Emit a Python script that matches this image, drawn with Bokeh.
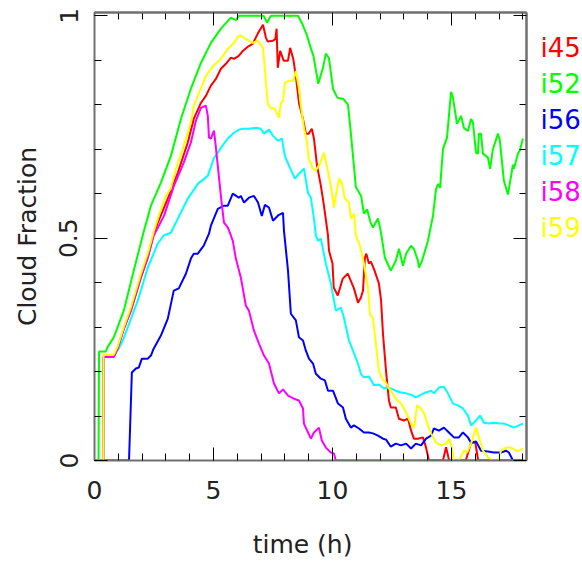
from bokeh.plotting import figure
from bokeh.models import Range1d, FixedTicker, LinearAxis
from bokeh.layouts import row
from bokeh.core.properties import value
from bokeh.embed import file_html
from bokeh.resources import INLINE

# ---------------- data ----------------
x_major = [0, 5, 10, 15]
x_minor = list(range(0, 19))
y_major = [0, 0.5, 1]
y_minor = [0, 0.1, 0.2, 0.3, 0.4, 0.5, 0.6, 0.7, 0.8, 0.9, 1.0]

series_names = ["i45", "i52", "i56", "i57", "i58", "i59"]
series_colors = ["#ff0000", "#00ff00", "#0000ff", "#00ffff", "#ff00ff", "#ffff00"]

t_i45 = [0, 0.37, 0.38, 0.81, 0.98, 1.23, 1.53, 1.95, 2.24, 2.49, 2.66, 3.08, 3.5, 3.92, 4.17,
         4.47, 4.68, 4.89, 5.1, 5.31, 5.52, 5.73, 5.86, 6.06, 6.23, 6.43, 6.65, 6.86, 7.08, 7.2,
         7.28, 7.5, 7.6, 7.65, 7.7, 7.8, 7.95, 8.13, 8.22, 8.35, 8.46, 8.59, 8.76, 8.88, 9.0,
         9.13, 9.22, 9.35, 9.51, 9.64, 9.81, 9.85, 10.0, 10.05, 10.22, 10.43, 10.64, 10.77, 10.9,
         11.07, 11.19, 11.28, 11.36, 11.42, 11.53, 11.61, 11.74, 11.95, 12.04, 12.12, 12.25,
         12.37, 12.45, 12.66, 12.79, 13.0, 13.17, 13.3, 13.42, 13.59, 13.8, 13.93, 14.05, 14.64,
         14.77, 14.9, 15.6, 15.82, 16.0, 16.12, 17.95]
v_i45 = [0, 0, 0.233, 0.233, 0.254, 0.297, 0.337, 0.411, 0.456, 0.51, 0.535, 0.589, 0.647, 0.715,
         0.768, 0.804, 0.82, 0.843, 0.858, 0.881, 0.892, 0.906, 0.903, 0.91, 0.921, 0.93, 0.937,
         0.96, 0.98, 0.951, 0.942, 0.944, 0.948, 0.971, 0.883, 0.921, 0.899, 0.899, 0.928, 0.903,
         0.865, 0.804, 0.768, 0.735, 0.735, 0.746, 0.724, 0.663, 0.618, 0.573, 0.506, 0.472,
         0.443, 0.389, 0.371, 0.409, 0.42, 0.404, 0.387, 0.355, 0.366, 0.382, 0.456, 0.465,
         0.443, 0.447, 0.431, 0.398, 0.36, 0.285, 0.2, 0.135, 0.119, 0.119, 0.094, 0.09, 0.094,
         0.067, 0.049, 0.049, 0.052, 0.029, 0.0, 0.0, 0.03, 0.0, 0.0, 0.04, 0.04, 0.0, 0.0]

t_i52 = [0, 0.17, 0.19, 0.47, 0.55, 0.81, 1.23, 1.65, 2.07, 2.37, 2.79, 3.21, 3.63, 4.05, 4.47,
         4.89, 5.31, 5.73, 5.94, 6.07, 7.1, 7.25, 7.41, 8.55, 8.7, 8.9, 9.1, 9.2, 9.4, 9.6, 9.72,
         9.85, 10.02, 10.2, 10.45, 10.65, 10.75, 10.86, 10.98, 11.2, 11.32, 11.45, 11.6, 11.7,
         11.91, 12.03, 12.2, 12.45, 12.66, 12.79, 12.96, 13.09, 13.3, 13.42, 13.59, 13.63, 13.76,
         13.89, 14.01, 14.22, 14.35, 14.44, 14.52, 14.64, 14.81, 14.98, 15.06, 15.23, 15.4,
         15.52, 15.69, 15.82, 15.9, 16.03, 16.11, 16.15, 16.24, 16.32, 16.53, 16.62, 16.74,
         16.95, 17.03, 17.2, 17.37, 17.58, 17.62, 17.79, 17.87, 18.0]
v_i52 = [0, 0, 0.245, 0.245, 0.255, 0.277, 0.337, 0.427, 0.515, 0.573, 0.625, 0.685, 0.768,
         0.836, 0.894, 0.939, 0.971, 0.996, 0.99, 1.0, 1.0, 0.985, 1.0, 1.0, 0.985, 0.96, 0.925,
         0.91, 0.847, 0.883, 0.915, 0.905, 0.836, 0.816, 0.813, 0.8, 0.748, 0.685, 0.615, 0.595,
         0.555, 0.565, 0.535, 0.524, 0.544, 0.515, 0.456, 0.427, 0.449, 0.476, 0.438, 0.465,
         0.483, 0.476, 0.449, 0.434, 0.449, 0.472, 0.494, 0.55, 0.611, 0.622, 0.613, 0.7, 0.726,
         0.829, 0.816, 0.757, 0.775, 0.748, 0.741, 0.768, 0.76, 0.692, 0.69, 0.735, 0.735, 0.69,
         0.681, 0.656, 0.7, 0.735, 0.72, 0.629, 0.598, 0.665, 0.656, 0.69, 0.697, 0.724]

t_i56 = [0, 1.45, 1.57, 1.74, 1.86, 1.99, 2.24, 2.37, 2.49, 2.79, 3.08, 3.33, 3.54, 3.84, 4.05,
         4.17, 4.34, 4.59, 4.81, 4.89, 5.18, 5.44, 5.6, 5.81, 6.06, 6.15, 6.28, 6.49, 6.7, 6.87,
         7.03, 7.16, 7.33, 7.5, 7.71, 7.92, 7.96, 8.13, 8.25, 8.46, 8.59, 8.76, 8.88, 9.01, 9.18,
         9.3, 9.51, 9.68, 9.81, 10.02, 10.23, 10.44, 10.56, 10.77, 10.9, 11.11, 11.32, 11.53,
         11.7, 11.91, 12.12, 12.25, 12.45, 12.66, 12.88, 13.09, 13.3, 13.5, 13.72, 13.93, 14.14,
         14.26, 14.47, 14.68, 14.89, 15.1, 15.31, 15.48, 15.69, 15.82, 16.03, 16.24, 16.53,
         16.78, 17.08, 17.29, 17.41, 17.58, 18.0]
v_i56 = [0, 0, 0.198, 0.207, 0.209, 0.229, 0.229, 0.236, 0.252, 0.281, 0.319, 0.382, 0.387, 0.42,
         0.454, 0.465, 0.465, 0.483, 0.51, 0.528, 0.566, 0.573, 0.573, 0.6, 0.591, 0.595, 0.58,
         0.591, 0.595, 0.58, 0.55, 0.575, 0.569, 0.539, 0.551, 0.557, 0.517, 0.427, 0.33, 0.315,
         0.277, 0.27, 0.247, 0.229, 0.218, 0.195, 0.184, 0.18, 0.157, 0.157, 0.128, 0.119, 0.094,
         0.074, 0.079, 0.072, 0.063, 0.063, 0.061, 0.056, 0.049, 0.047, 0.031, 0.038, 0.034,
         0.038, 0.027, 0.038, 0.034, 0.049, 0.056, 0.072, 0.067, 0.074, 0.063, 0.052, 0.052,
         0.063, 0.052, 0.04, 0.043, 0.022, 0.02, 0.018, 0.018, 0.022, 0.018, 0.0, 0.0]

t_i57 = [0, 0.37, 0.38, 0.81, 1.0, 1.19, 1.4, 1.82, 2.24, 2.66, 2.91, 3.21, 3.5, 3.92, 4.34, 4.76,
         5.01, 5.31, 5.6, 5.86, 6.07, 6.23, 6.49, 6.78, 6.99, 7.12, 7.33, 7.5, 7.71, 7.87, 8.0,
         8.17, 8.42, 8.59, 8.8, 8.97, 9.09, 9.22, 9.3, 9.39, 9.51, 9.72, 9.93, 10.14, 10.35,
         10.48, 10.69, 10.86, 11.07, 11.19, 11.32, 11.53, 11.74, 11.95, 12.16, 12.25, 12.45,
         12.66, 12.88, 13.09, 13.3, 13.5, 13.72, 13.93, 14.14, 14.26, 14.47, 14.68, 14.85, 15.06,
         15.27, 15.48, 15.69, 15.82, 16.03, 16.2, 16.36, 16.57, 16.78, 16.99, 17.2, 17.41, 17.62,
         17.83, 18.0]
v_i57 = [0, 0, 0.235, 0.235, 0.25, 0.27, 0.3, 0.36, 0.434, 0.488, 0.506, 0.512, 0.544, 0.589,
         0.622, 0.64, 0.679, 0.703, 0.724, 0.737, 0.744, 0.746, 0.746, 0.748, 0.746, 0.735, 0.744,
         0.73, 0.719, 0.724, 0.685, 0.663, 0.634, 0.645, 0.656, 0.602, 0.591, 0.544, 0.506, 0.494,
         0.499, 0.443, 0.398, 0.337, 0.344, 0.321, 0.27, 0.247, 0.218, 0.195, 0.187, 0.189, 0.169,
         0.171, 0.162, 0.164, 0.162, 0.157, 0.153, 0.151, 0.148, 0.142, 0.148, 0.153, 0.157,
         0.151, 0.164, 0.166, 0.151, 0.128, 0.124, 0.117, 0.101, 0.079, 0.09, 0.101, 0.085, 0.083,
         0.085, 0.083, 0.083, 0.079, 0.074, 0.079, 0.083]

t_i58 = [0, 0.37, 0.38, 0.81, 0.98, 1.23, 1.53, 1.95, 2.24, 2.49, 2.92, 3.34, 3.75, 4.05, 4.26,
         4.47, 4.68, 4.76, 4.81, 4.89, 5.02, 5.06, 5.18, 5.31, 5.44, 5.6, 5.73, 5.81, 5.94, 6.15,
         6.36, 6.49, 6.7, 6.91, 7.12, 7.33, 7.54, 7.75, 7.92, 8.13, 8.38, 8.59, 8.76, 8.8, 9.09,
         9.22, 9.43, 9.55, 9.72, 9.93, 10.06, 10.14, 17.95]
v_i58 = [0, 0, 0.233, 0.233, 0.252, 0.295, 0.338, 0.413, 0.458, 0.506, 0.55, 0.618, 0.67, 0.715,
         0.764, 0.793, 0.798, 0.775, 0.726, 0.724, 0.742, 0.724, 0.663, 0.595, 0.535, 0.524,
         0.506, 0.494, 0.454, 0.411, 0.348, 0.337, 0.292, 0.263, 0.236, 0.218, 0.173, 0.151,
         0.16, 0.146, 0.139, 0.135, 0.117, 0.083, 0.049, 0.063, 0.074, 0.045, 0.029, 0.018,
         0.016, 0.0, 0.0]

t_i59 = [0, 0.37, 0.38, 0.81, 0.98, 1.23, 1.53, 1.95, 2.24, 2.49, 2.7, 3.0, 3.2, 3.42, 3.75, 4.05,
         4.17, 4.47, 4.68, 5.0, 5.31, 5.6, 5.86, 6.06, 6.15, 6.36, 6.65, 6.86, 7.08, 7.17, 7.28,
         7.42, 7.55, 7.75, 7.83, 7.92, 8.0, 8.17, 8.35, 8.46, 8.59, 8.67, 8.8, 8.92, 9.0, 9.18,
         9.3, 9.47, 9.64, 9.76, 9.93, 10.06, 10.27, 10.39, 10.52, 10.69, 10.77, 10.9, 10.98,
         11.07, 11.15, 11.32, 11.49, 11.57, 11.7, 11.82, 11.95, 12.08, 12.25, 12.35, 12.45, 12.66,
         12.88, 13.09, 13.3, 13.43, 13.55, 13.68, 13.85, 14.01, 14.14, 14.35, 14.56, 14.77, 14.9,
         15.02, 15.1, 15.31, 15.52, 15.65, 15.82, 16.03, 16.15, 16.32, 16.53, 16.74, 16.95,
         17.08, 17.29, 17.5, 17.71, 17.83, 18.0]
v_i59 = [0, 0, 0.238, 0.238, 0.258, 0.3, 0.345, 0.42, 0.466, 0.515, 0.55, 0.595, 0.611, 0.656,
         0.708, 0.76, 0.798, 0.836, 0.865, 0.888, 0.903, 0.926, 0.939, 0.955, 0.955, 0.948, 0.939,
         0.944, 0.928, 0.872, 0.802, 0.791, 0.793, 0.771, 0.804, 0.809, 0.849, 0.854, 0.854,
         0.876, 0.836, 0.798, 0.748, 0.719, 0.679, 0.656, 0.652, 0.667, 0.692, 0.663, 0.618,
         0.569, 0.634, 0.625, 0.589, 0.58, 0.544, 0.555, 0.506, 0.494, 0.483, 0.443, 0.389, 0.33,
         0.319, 0.263, 0.202, 0.184, 0.175, 0.164, 0.157, 0.139, 0.128, 0.108, 0.083, 0.074,
         0.124, 0.119, 0.106, 0.079, 0.061, 0.04, 0.034, 0.038, 0.049, 0.027, 0.0, 0.0, 0.022,
         0.018, 0.038, 0.074, 0.052, 0.022, 0.007, 0.0, 0.0, 0.022, 0.029, 0.029, 0.022, 0.022,
         0.027]

series_t = [t_i45, t_i52, t_i56, t_i57, t_i58, t_i59]
series_v = [v_i45, v_i52, v_i56, v_i57, v_i58, v_i59]

# ---------------- styling ----------------
FONT = "DejaVu Sans"
FS = "25px"
TXT = "#222222"
FRAME_W, FRAME_H = 432, 448
LEFT, TOP, BOTTOM, RIGHT = 94, 12, 101, 2
H = TOP + FRAME_H + BOTTOM

p = figure(width=LEFT + FRAME_W + RIGHT, height=H, output_backend="svg", toolbar_location=None,
           x_range=Range1d(0, 18.15), y_range=Range1d(0, 1.0074),
           min_border_left=LEFT, min_border_right=RIGHT, min_border_top=TOP,
           min_border_bottom=BOTTOM,
           x_axis_label="time   (h)", y_axis_label="Cloud Fraction")
p.grid.visible = False
p.outline_line_color = None


def style_axis(ax, tick_in=13, minor_in=7):
    ax.axis_line_color = "#707070"
    ax.axis_line_width = 2
    ax.major_tick_line_color = "black"
    ax.minor_tick_line_color = "black"
    ax.major_tick_in = tick_in
    ax.major_tick_out = 0
    ax.minor_tick_in = minor_in
    ax.minor_tick_out = 0
    ax.major_label_text_font = FONT
    ax.major_label_text_font_size = FS
    ax.major_label_text_color = TXT
    ax.axis_label_text_font = FONT
    ax.axis_label_text_font_size = FS
    ax.axis_label_text_font_style = "normal"
    ax.axis_label_text_color = TXT


xa = p.xaxis[0]
xa.ticker = FixedTicker(ticks=x_major, minor_ticks=x_minor)
style_axis(xa)
xa.major_label_standoff = 20
xa.axis_label_standoff = 28

ya = p.yaxis[0]
ya.ticker = FixedTicker(ticks=y_major, minor_ticks=y_minor)
style_axis(ya)
ya.major_label_overrides = {0: "0", 0.5: "0.5", 1: "1"}
ya.major_label_orientation = "parallel"
ya.major_label_standoff = 17
ya.axis_label_standoff = 15

# top / right frame sides: tick marks only (no labels), long marks at the major positions
for side, minor_all, majors in (("above", x_minor, x_major), ("right", y_minor, y_major)):
    ax_minor = LinearAxis(ticker=FixedTicker(ticks=[], minor_ticks=minor_all))
    style_axis(ax_minor, minor_in=7)
    ax_minor.major_label_standoff = 0
    ax_major = LinearAxis(ticker=FixedTicker(ticks=[], minor_ticks=majors))
    style_axis(ax_major, minor_in=13)
    ax_major.major_label_standoff = 0
    p.add_layout(ax_minor, side)
    p.add_layout(ax_major, side)

for color, tt, vv in zip(series_colors, series_t, series_v):
    p.line(tt, vv, line_color=color, line_width=2)

# series names to the right of the frame
q = figure(width=52, height=H, output_backend="svg", toolbar_location=None,
           x_range=Range1d(0, 52), y_range=p.y_range, x_axis_type=None, y_axis_type=None,
           min_border_left=0, min_border_right=0, min_border_top=TOP, min_border_bottom=BOTTOM)
q.grid.visible = False
q.outline_line_color = None
name_y = [0.928 - 0.081 * i for i in range(len(series_names))]
q.text(x=[12] * len(series_names), y=name_y, text=series_names, text_color=series_colors,
       text_font=value(FONT), text_font_size=value("26px"), text_baseline="middle",
       text_align="left")

layout = row(p, q, spacing=0)
open("out.html", "w").write(file_html(layout, INLINE))
